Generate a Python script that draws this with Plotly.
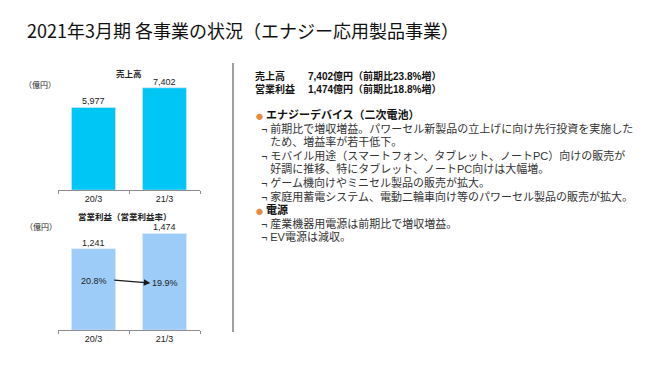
import plotly.graph_objects as go

# ---- data ----
categories = ["20/3", "21/3"]
sales = [5977, 7402]            # 売上高 (億円)
op_income = [1241, 1474]        # 営業利益 (億円)
op_margin = ["20.8%", "19.9%"]  # 営業利益率

title_text = "2021年3月期 各事業の状況（エナジー応用製品事業）"
summary_labels = ["売上高", "営業利益"]
summary_values = ["7,402億円（前期比23.8%増）", "1,474億円（前期比18.8%増）"]
sections = [
    ("エナジーデバイス（二次電池）", [
        ["前期比で増収増益。パワーセル新製品の立上げに向け先行投資を実施した", "ため、増益率が若干低下。"],
        ["モバイル用途（スマートフォン、タブレット、ノートPC）向けの販売が", "好調に推移、特にタブレット、ノートPC向けは大幅増。"],
        ["ゲーム機向けやミニセル製品の販売が拡大。"],
        ["家庭用蓄電システム、電動二輪車向け等のパワーセル製品の販売が拡大。"],
    ]),
    ("電源", [
        ["産業機器用電源は前期比で増収増益。"],
        ["EV電源は減収。"],
    ]),
]

# page body has an 8px margin: shrink the figure and shift everything
OFF = 8
W, H = 660 - OFF, 371 - OFF
JP = "Noto Sans CJK JP"
MIX = "Liberation Sans, Noto Sans CJK JP"


def px(x):
    return (x - OFF) / W


def py(y):
    return 1 - (y - OFF) / H


fig = go.Figure()
fig.add_trace(go.Bar(
    x=categories, y=sales, marker_color="#00C6F6", width=0.62,
    xaxis="x", yaxis="y", hoverinfo="skip"))
fig.add_trace(go.Bar(
    x=categories, y=op_income, marker_color="#9DCCF9", width=0.62,
    xaxis="x2", yaxis="y2", hoverinfo="skip"))

axis_common = dict(
    showline=True, linecolor="#8c8c8c", linewidth=1, ticks="outside",
    tickson="boundaries", ticklen=3, tickcolor="#8c8c8c", showgrid=False,
    tickfont=dict(size=9, color="#222222", family=MIX), range=[-0.5, 1.5],
    fixedrange=True)

annotations = []


def note(x, y, text, size=11, color="#222222", bold=False, xanchor="left", family=JP, yanchor="middle"):
    t = f"<b>{text}</b>" if bold else text
    annotations.append(dict(
        x=px(x), y=py(y), xref="paper", yref="paper", text=t, showarrow=False,
        xanchor=xanchor, yanchor=yanchor, align="left",
        font=dict(size=size, color=color, family=family)))


# title
note(25, 30, title_text, size=18, color="#111111")

# chart titles / units
note(129, 73, "売上高", size=8.5, bold=True, xanchor="center")
note(40, 84, "（億円）", size=8, xanchor="center")
note(125, 216, "営業利益（営業利益率）", size=8.5, bold=True, xanchor="center")
note(41, 226, "（億円）", size=8, xanchor="center")

# value labels above bars
for ax_name, vals in (("", sales), ("2", op_income)):
    for cat, v in zip(categories, vals):
        annotations.append(dict(
            x=cat, y=v, xref="x" + ax_name, yref="y" + ax_name, text=f"{v:,}",
            showarrow=False, yanchor="bottom", yshift=-1,
            font=dict(size=9, color="#222222", family=MIX)))

# margin labels inside bottom bars
for cat, m, yv in zip(categories, op_margin, [750, 718]):
    annotations.append(dict(
        x=cat, y=yv, xref="x2", yref="y2", text=m, showarrow=False,
        font=dict(size=9, color="#222222", family=MIX)))
# arrow between margins
annotations.append(dict(
    x=0.8, y=718, ax=0.27, ay=763, xref="x2", yref="y2", axref="x2", ayref="y2",
    text="", showarrow=True, arrowhead=2, arrowsize=1, arrowwidth=1.3,
    arrowcolor="#1a1a1a"))

# right side: summary lines (two columns)
note(253, 82.5, "<br>".join(summary_labels), size=10, bold=True, color="#111111", family=MIX)
note(306, 82.5, "<br>".join(summary_values), size=10, bold=True, color="#111111", family=MIX)

# right side: bulleted block
NOT = '<span style="font-family:Liberation Sans">¬</span>'
NOT_BLANK = '<span style="font-family:Liberation Sans;color:rgba(0,0,0,0)">¬</span>'
BULLET = '<span style="font-family:Noto Sans CJK JP;color:#E8893C;font-size:7px">●</span>'
lines = []
for head, items in sections:
    lines.append(f'{BULLET}\u00a0'
                 f'<span style="font-size:11px;color:#111111"><b>{head}</b></span>')
    for item in items:
        for i, ln in enumerate(item):
            mark = NOT if i == 0 else NOT_BLANK
            lines.append(f'\u2002{mark}\u00a0<span style="font-size:11px">{ln}</span>')
block = "<br>".join(lines)
note(254, 175.5, block, size=10.45, color="#333333", family=MIX)

fig.update_layout(
    width=W, height=H, margin=dict(l=0, r=0, t=0, b=0),
    paper_bgcolor="white", plot_bgcolor="white", showlegend=False,
    bargap=0.38,
    xaxis=dict(domain=[px(58), px(200)], anchor="y", **axis_common),
    yaxis=dict(domain=[py(190), py(75)], range=[0, 8330], visible=False, fixedrange=True),
    xaxis2=dict(domain=[px(58), px(200)], anchor="y2", **axis_common),
    yaxis2=dict(domain=[py(330), py(220)], range=[0, 1679], visible=False, fixedrange=True),
    annotations=annotations,
    shapes=[dict(type="line", xref="paper", yref="paper", x0=px(233), x1=px(233),
                 y0=py(63), y1=py(332), line=dict(color="#7f7f7f", width=1.5))],
)

fig.write_html("out.html")
